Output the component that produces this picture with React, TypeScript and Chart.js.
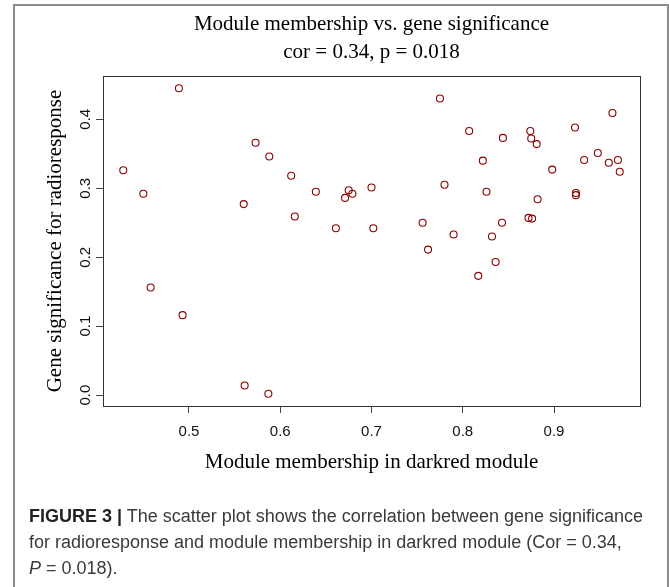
import React, { useEffect, useRef } from 'react';
import { Chart, registerables } from 'chart.js';

Chart.register(...registerables);

// Module membership (x) and gene significance (y) for each gene
const membership = [
  0.489, 0.428, 0.450, 0.573, 0.588, 0.612, 0.560, 0.639, 0.675, 0.679,
  0.671, 0.700, 0.616, 0.661, 0.702, 0.775, 0.964, 0.807, 0.844, 0.874,
  0.875, 0.881, 0.923, 0.948, 0.933, 0.960, 0.970, 0.972, 0.822, 0.898,
  0.780, 0.826, 0.924, 0.924, 0.882, 0.756, 0.843, 0.872, 0.876, 0.790,
  0.832, 0.762, 0.836, 0.817, 0.458, 0.493, 0.561, 0.587,
];
const significance = [
  0.445, 0.326, 0.292, 0.366, 0.346, 0.318, 0.277, 0.295, 0.297, 0.292,
  0.286, 0.301, 0.259, 0.242, 0.242, 0.430, 0.409, 0.383, 0.373, 0.383,
  0.372, 0.364, 0.388, 0.351, 0.341, 0.337, 0.341, 0.324, 0.340, 0.327,
  0.305, 0.295, 0.293, 0.290, 0.284, 0.250, 0.250, 0.257, 0.256, 0.233,
  0.230, 0.211, 0.193, 0.173, 0.156, 0.116, 0.014, 0.002,
];

const titleLines = ['Module membership vs. gene significance', 'cor = 0.34, p = 0.018'];
const xTitle = 'Module membership in darkred module';
const yTitle = 'Gene significance for radioresponse';
const xRange = [0.4058, 0.9942];
const yRange = [-0.0157, 0.4627];
const tickStep = 0.1;

const SERIF = '"Liberation Serif", "Times New Roman", serif';
const SANS = '"Liberation Sans", Arial, sans-serif';

export default function App() {
  const ref = useRef<HTMLCanvasElement>(null);

  useEffect(() => {
    const canvas = ref.current!;
    const points = membership.map((x, i) => ({ x, y: significance[i] }));

    const boxPlugin = {
      id: 'rbox',
      afterDatasetsDraw(chart: any) {
        const { ctx, chartArea: a } = chart;
        ctx.save();
        ctx.strokeStyle = '#333';
        ctx.lineWidth = 1;
        ctx.strokeRect(
          Math.round(a.left) + 0.5,
          Math.round(a.top) + 0.5,
          Math.round(a.right - a.left),
          Math.round(a.bottom - a.top)
        );
        ctx.restore();
      },
    };

    const chart = new Chart(canvas, {
      type: 'scatter',
      data: {
        datasets: [
          {
            data: points,
            pointStyle: 'circle',
            pointRadius: 3.5,
            pointHoverRadius: 3.5,
            pointBorderColor: '#8B0000',
            pointBackgroundColor: 'rgba(0,0,0,0)',
            pointBorderWidth: 1.1,
          },
        ],
      },
      options: {
        responsive: false,
        animation: false,
        devicePixelRatio: 1,
        events: [],
        layout: { padding: { left: 0, top: 0, right: 29, bottom: 107 } },
        plugins: {
          legend: { display: false },
          tooltip: { enabled: false },
          title: {
            display: true,
            text: titleLines,
            fullSize: false,
            color: '#000',
            font: { family: SERIF, size: 21, weight: 'normal', lineHeight: 28 / 21 },
            padding: { top: 10, bottom: 10 },
          },
        },
        scales: {
          x: {
            type: 'linear',
            position: 'bottom',
            min: xRange[0],
            max: xRange[1],
            afterFit: (s: any) => {
              s.height = 74;
            },
            border: { display: false },
            grid: { drawOnChartArea: false, drawTicks: true, tickLength: 7, tickColor: '#444', tickWidth: 1 },
            ticks: {
              stepSize: tickStep,
              includeBounds: false,
              autoSkip: false,
              minRotation: 0,
              maxRotation: 0,
              padding: 10,
              color: '#111',
              font: { family: SANS, size: 15 },
              callback: (v: any) => Number(v).toFixed(1),
            },
            title: {
              display: true,
              text: xTitle,
              color: '#000',
              font: { family: SERIF, size: 21, weight: 'normal' },
              padding: { top: 0, bottom: 5.4 },
            },
          },
          y: {
            type: 'linear',
            position: 'left',
            min: yRange[0],
            max: yRange[1],
            afterFit: (s: any) => {
              s.width = 103;
            },
            border: { display: false },
            grid: { drawOnChartArea: false, drawTicks: true, tickLength: 7, tickColor: '#444', tickWidth: 1 },
            ticks: {
              stepSize: tickStep,
              includeBounds: false,
              autoSkip: false,
              minRotation: 90,
              maxRotation: 90,
              crossAlign: 'center',
              padding: 0,
              color: '#111',
              font: { family: SANS, size: 15 },
              callback: (v: any) => Number(v).toFixed(1),
            },
            title: {
              display: true,
              text: yTitle,
              color: '#000',
              font: { family: SERIF, size: 21, weight: 'normal' },
              padding: { top: 42.4, bottom: 0 },
            },
          },
        },
      },
      plugins: [boxPlugin],
    } as any);

    return () => chart.destroy();
  }, []);

  return (
    <div
      style={{
        position: 'absolute',
        left: 0,
        top: 0,
        width: 669,
        height: 587,
        overflow: 'hidden',
        background: '#fff',
      }}
    >
      <div
        style={{
          position: 'absolute',
          left: 13,
          top: 4,
          width: 656,
          height: 640,
          boxSizing: 'border-box',
          borderTop: '2px solid #8c8c8c',
          borderLeft: '2px solid #8c8c8c',
          borderRight: '2px solid #8c8c8c',
        }}
      />
      <canvas
        ref={ref}
        width={669}
        height={587}
        style={{ position: 'absolute', left: 0, top: 0, width: 669, height: 587 }}
      />
      <div
        style={{
          position: 'absolute',
          left: 29,
          top: 503,
          fontFamily: SANS,
          fontSize: 18,
          lineHeight: '26px',
          color: '#3a3a3a',
          whiteSpace: 'nowrap',
        }}
      >
        <b style={{ color: '#222' }}>FIGURE 3 |</b> The scatter plot shows the correlation between gene significance
        <br />
        for radioresponse and module membership in darkred module (Cor = 0.34,
        <br />
        <i>P</i> = 0.018).
      </div>
    </div>
  );
}
